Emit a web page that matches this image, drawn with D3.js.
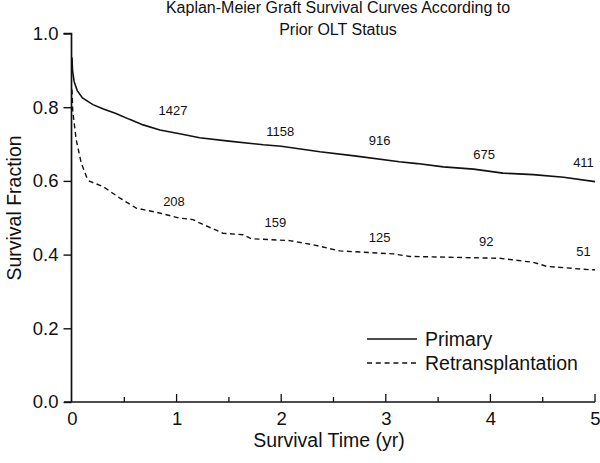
<!DOCTYPE html>
<html>
<head>
<meta charset="utf-8">
<script src="https://cdn.jsdelivr.net/npm/d3@7"></script>
<style>
  html, body { margin: 0; padding: 0; background: #fff; }
  svg { display: block; font-family: Arial, "Liberation Sans", Helvetica, sans-serif; }
</style>
</head>
<body>
<svg id="chart" width="600" height="463"></svg>
<script>
// ---- data ----
const titleLines = ["Kaplan-Meier Graft Survival Curves According to", "Prior OLT Status"];
const xTicks = [0, 1, 2, 3, 4, 5];
const xMinorTicks = [0.5, 1.5, 2.5, 3.5, 4.5];
const yTicks = [0, 0.2, 0.4, 0.6, 0.8, 1.0];

const primaryT = [0, 0.005, 0.02, 0.05, 0.1, 0.2, 0.3, 0.42, 0.55, 0.68, 0.84, 1.03, 1.22, 1.5, 1.83, 2.0, 2.37, 2.7, 3.13, 3.3, 3.55, 3.84, 4.12, 4.41, 4.7, 5.0];
const primaryS = [0.935, 0.90, 0.87, 0.845, 0.825, 0.807, 0.795, 0.783, 0.767, 0.752, 0.738, 0.728, 0.717, 0.708, 0.698, 0.694, 0.679, 0.668, 0.652, 0.647, 0.638, 0.632, 0.621, 0.617, 0.610, 0.598];

const retransT = [0, 0.007, 0.04, 0.088, 0.14, 0.167, 0.295, 0.455, 0.614, 0.837, 1.03, 1.156, 1.22, 1.443, 1.634, 1.715, 2.08, 2.30, 2.56, 3.07, 3.23, 4.09, 4.41, 4.54, 4.95, 5.0];
const retransS = [0.848, 0.79, 0.712, 0.649, 0.61, 0.599, 0.585, 0.554, 0.526, 0.513, 0.499, 0.495, 0.486, 0.458, 0.454, 0.443, 0.438, 0.427, 0.410, 0.402, 0.395, 0.390, 0.379, 0.368, 0.359, 0.359];

// numbers at risk
const primaryAtRisk = ["1427", "1158", "916", "675", "411"];
const primaryAtRiskT = [0.966, 1.99, 2.94, 3.94, 4.89];
const primaryAtRiskS = [0.78, 0.721, 0.698, 0.66, 0.639];
const retransAtRisk = ["208", "159", "125", "92", "51"];
const retransAtRiskT = [0.975, 1.945, 2.94, 3.96, 4.89];
const retransAtRiskS = [0.531, 0.475, 0.433, 0.424, 0.395];

const seriesNames = ["Primary", "Retransplantation"];

// ---- drawing ----
const svg = d3.select("#chart");
const x = d3.scaleLinear().domain([0, 5]).range([72, 595]);
const y = d3.scaleLinear().domain([0, 1]).range([402, 33.5]);

// title
svg.append("g").selectAll("text").data(titleLines).join("text")
  .attr("x", 338).attr("y", (d, i) => 13 + i * 22)
  .attr("text-anchor", "middle").attr("font-size", 16).attr("fill", "#111")
  .text(d => d);

// y axis
const yAxis = d3.axisLeft(y).tickValues(yTicks).tickFormat(d3.format(".1f")).tickSize(8).tickPadding(5);
const gy = svg.append("g").attr("transform", `translate(${x(0) - 0.5},0)`).call(yAxis);
gy.select(".domain").attr("d", `M-8,${y(1)}H0V${y(0)}`).attr("stroke", "#111").attr("stroke-width", 1.7);
gy.selectAll(".tick line").attr("stroke", "#111").attr("stroke-width", 1.4);
gy.selectAll(".tick text").attr("font-size", 18.5).attr("fill", "#111").attr("font-family", "Arial, 'Liberation Sans', sans-serif");

// x axis (ticks pointing up)
const xAxis = d3.axisBottom(x).tickValues(xTicks).tickFormat(d3.format("d")).tickSize(0).tickPadding(10);
const gx = svg.append("g").attr("transform", `translate(0,${y(0)})`).call(xAxis);
gx.select(".domain").attr("d", `M${x(0) - 8},0H${x(5)}`).attr("stroke", "#111").attr("stroke-width", 1.7);
gx.selectAll(".tick text").attr("font-size", 18.5).attr("fill", "#111").attr("font-family", "Arial, 'Liberation Sans', sans-serif");
gx.selectAll(".majorTick").data(xTicks.filter(d => d > 0)).join("line")
  .attr("x1", d => x(d)).attr("x2", d => x(d)).attr("y1", 0).attr("y2", -8)
  .attr("stroke", "#111").attr("stroke-width", 1.3);
gx.selectAll(".minorTick").data(xMinorTicks).join("line")
  .attr("x1", d => x(d)).attr("x2", d => x(d)).attr("y1", 0).attr("y2", -5)
  .attr("stroke", "#111").attr("stroke-width", 1.3);

// axis titles
svg.append("text").attr("x", 329).attr("y", 447).attr("text-anchor", "middle")
  .attr("font-size", 19.5).attr("fill", "#111").text("Survival Time (yr)");
svg.append("text").attr("transform", "translate(21,208) rotate(-90)").attr("text-anchor", "middle")
  .attr("font-size", 19.5).attr("fill", "#111").text("Survival Fraction");

// curves
const line = d3.line().x(d => x(d[0])).y(d => y(d[1])).curve(d3.curveLinear);
const primaryData = primaryT.map((t, i) => [t, primaryS[i]]);
const retransData = retransT.map((t, i) => [t, retransS[i]]);

svg.append("path").datum(primaryData).attr("d", line)
  .attr("fill", "none").attr("stroke", "#111").attr("stroke-width", 1.6);
svg.append("path").datum(retransData).attr("d", line)
  .attr("fill", "none").attr("stroke", "#111").attr("stroke-width", 1.4)
  .attr("stroke-dasharray", "5,3.5");

// numbers at risk
svg.append("g").selectAll("text").data(primaryAtRisk).join("text")
  .attr("x", (d, i) => x(primaryAtRiskT[i])).attr("y", (d, i) => y(primaryAtRiskS[i]))
  .attr("text-anchor", "middle").attr("font-size", 13).attr("fill", "#111").text(d => d);
svg.append("g").selectAll("text").data(retransAtRisk).join("text")
  .attr("x", (d, i) => x(retransAtRiskT[i])).attr("y", (d, i) => y(retransAtRiskS[i]))
  .attr("text-anchor", "middle").attr("font-size", 13).attr("fill", "#111").text(d => d);

// legend
const legend = svg.append("g").attr("transform", "translate(367,339)");
const lg = legend.selectAll("g").data(seriesNames).join("g")
  .attr("transform", (d, i) => `translate(0,${i * 24})`);
lg.append("line").attr("x1", 0).attr("x2", 50).attr("y1", 0).attr("y2", 0)
  .attr("stroke", "#111").attr("stroke-width", 1.3)
  .attr("stroke-dasharray", (d, i) => i === 1 ? "5,3.8" : null);
lg.append("text").attr("x", 58).attr("y", 7).attr("font-size", 19.5).attr("fill", "#111").text(d => d);
</script>
</body>
</html>
